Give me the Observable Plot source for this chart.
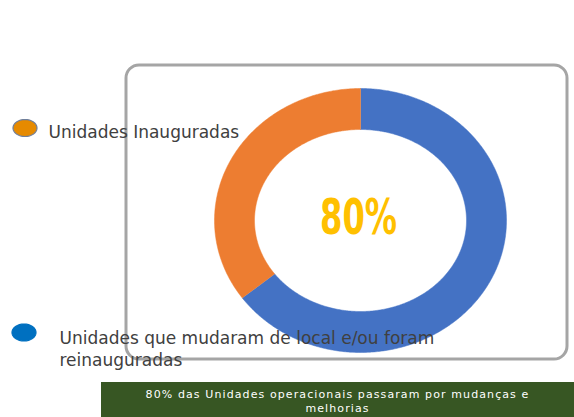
<!DOCTYPE html>
<html>
<head>
<meta charset="utf-8">
<script src="https://cdn.jsdelivr.net/npm/d3@7"></script>
<script src="https://cdn.jsdelivr.net/npm/@observablehq/plot@0.6"></script>
<style>
  html, body { margin: 0; padding: 0; background: #fff; }
  #wrap { width: 574px; height: 417px; position: relative; overflow: hidden; }
  #caption {
    position: absolute; left: 101px; top: 382px; width: 473px; height: 35px;
    background: #375623; color: #fff; text-align: center;
    font-family: "DejaVu Sans", sans-serif; font-size: 11px; line-height: 14px;
    letter-spacing: 1.1px; padding-top: 6px; box-sizing: border-box; white-space: nowrap;
  }
</style>
</head>
<body>
<div id="wrap"><div id="chart"></div><div id="caption"></div></div>
<script>
// ---- data ----
const categories = ["Unidades que mudaram de local e/ou foram reinauguradas", "Unidades Inauguradas"];
const values = [65, 35];
const legendLines = [["Unidades Inauguradas"], ["Unidades que mudaram de local e/ou foram", "reinauguradas"]];
const centerLabel = "80%";
const captionText = ["80% das Unidades operacionais passaram por mudanças e", "melhorias"];

// ---- layout (pixel space) ----
const W = 574, H = 381;
const cx = 360, cy = 220, rxO = 146, ryO = 132, rxI = 106, ryI = 91;

// build donut slice polygons from values
const total = d3.sum(values);
let acc = 0;
const slices = [];
categories.forEach((c, i) => {
  const a0 = acc / total * 2 * Math.PI;
  acc += values[i];
  const a1 = acc / total * 2 * Math.PI;
  const n = Math.max(8, Math.ceil((a1 - a0) / 0.01));
  for (let k = 0; k <= n; k++) {
    const a = a0 + (a1 - a0) * k / n;
    slices.push({cat: c, x: cx + rxO * Math.sin(a), y: cy - ryO * Math.cos(a)});
  }
  for (let k = n; k >= 0; k--) {
    const a = a0 + (a1 - a0) * k / n;
    slices.push({cat: c, x: cx + rxI * Math.sin(a), y: cy - ryI * Math.cos(a)});
  }
});

// legend markers (ellipses)
const legendPos = [
  {cat: categories[1], mx: 24.5, my: 127.5, tx: 48, ty: 137},
  {cat: categories[0], mx: 23.5, my: 332, tx: 59, ty: 343}
];
const markers = [];
legendPos.forEach(p => {
  for (let k = 0; k <= 64; k++) {
    const a = k / 64 * 2 * Math.PI;
    markers.push({cat: p.cat, x: p.mx + 12 * Math.cos(a), y: p.my + 8.5 * Math.sin(a)});
  }
});
const legendText = [];
legendPos.forEach((p, i) => {
  const lines = legendLines[categories.indexOf(p.cat) === 1 ? 0 : 1];
  lines.forEach((t, j) => legendText.push({t, x: p.tx, y: p.ty + j * 22}));
});

const plot = Plot.plot({
  width: W, height: H,
  margin: 0,
  x: {domain: [0, W], range: [0, W], axis: null},
  y: {domain: [0, H], range: [0, H], axis: null},
  color: {domain: categories, range: ["#4472c4", "#ed7d31"]},
  style: {fontFamily: "DejaVu Sans, sans-serif", background: "#fff"},
  marks: [
    Plot.frame({insetLeft: 125.5, insetTop: 64.5, insetRight: 7.5, insetBottom: H - 358.5, rx: 13, stroke: "#a5a5a5", strokeWidth: 3, fill: "none"}),
    Plot.line(slices, {x: "x", y: "y", z: "cat", fill: "cat", stroke: "cat", strokeWidth: 0.5}),
    Plot.line(markers, {x: "x", y: "y", z: "cat", fill: d => d.cat === categories[1] ? "#e68a00" : "#0070c0",
      stroke: d => d.cat === categories[1] ? "#6f7f9c" : "#0070c0", strokeWidth: 1.2}),
    Plot.text(legendText, {x: "x", y: "y", text: "t", textAnchor: "start", lineAnchor: "bottom", fill: "#404040", fontSize: 17}),
    Plot.text([centerLabel], {x: () => cx - 2, y: () => 233, text: d => d, lineAnchor: "bottom", fill: "#ffc000",
      fontSize: 50, fontWeight: "bold", fontFamily: "DejaVu Sans Condensed, Liberation Sans Narrow, sans-serif"})
  ]
});
document.getElementById("chart").appendChild(plot);

// condense the center label to the reference width
d3.select(plot).selectAll("text").filter(function() { return this.textContent === centerLabel; })
  .attr("textLength", 77).attr("lengthAdjust", "spacingAndGlyphs");

document.getElementById("caption").innerHTML = captionText.join("<br>");
</script>
</body>
</html>
